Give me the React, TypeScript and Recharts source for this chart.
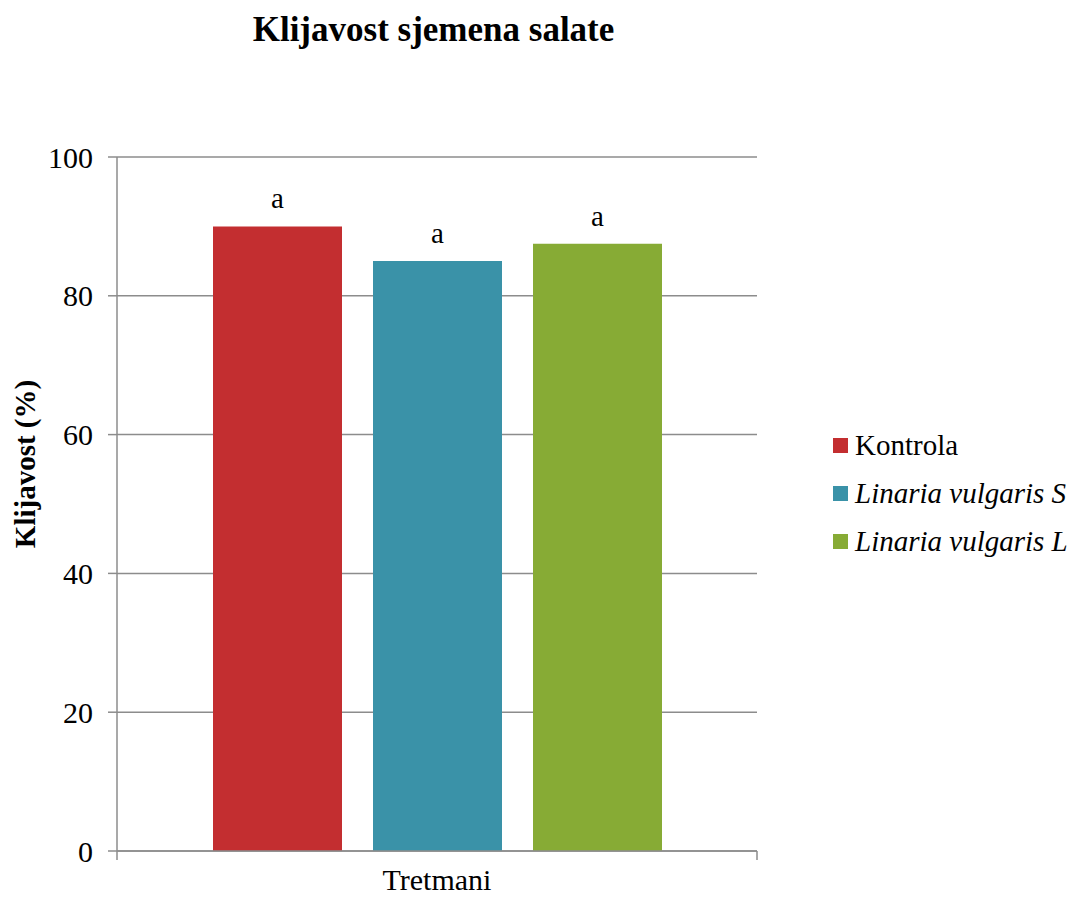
// @ts-nocheck
import { BarChart, Bar, XAxis, YAxis, CartesianGrid, LabelList } from 'recharts';

const categories = ['Tretmani'];
const kontrola = [90];
const linariaS = [85];
const linariaL = [87.5];
const letters = ['a', 'a', 'a'];
const yTicks = [0, 20, 40, 60, 80, 100];

const series = [
  { key: 'kontrola', name: 'Kontrola', color: '#C32E30', italic: false, letter: letters[0] },
  { key: 'linariaS', name: 'Linaria vulgaris S', color: '#3A92A8', italic: true, letter: letters[1] },
  { key: 'linariaL', name: 'Linaria vulgaris L', color: '#87AB35', italic: true, letter: letters[2] },
];

const data = categories.map((c, i) => ({
  name: c,
  kontrola: kontrola[i],
  linariaS: linariaS[i],
  linariaL: linariaL[i],
}));

const FONT = '"Liberation Serif", "Times New Roman", serif';
const GRID = '#8C8C8C';

// Excel draws the category ticks on the band edges, not at the centre
const CategoryTick = (props: any) => {
  const { x, width, payload } = props;
  const left = x - width / 2;
  const right = x + width / 2;
  return (
    <g>
      <line x1={left} y1={851} x2={left} y2={860} stroke={GRID} strokeWidth={1.5} />
      <line x1={right} y1={851} x2={right} y2={860} stroke={GRID} strokeWidth={1.5} />
      <text x={x} y={890} textAnchor="middle" fontFamily={FONT} fontSize={30} fill="#000">
        {payload.value}
      </text>
    </g>
  );
};

export default function App() {
  return (
    <div style={{ position: 'absolute', left: 0, top: 0, width: 1072, height: 898, background: '#fff', fontFamily: FONT }}>
      <div style={{ position: 'absolute', left: 0, width: 867, top: 12, textAlign: 'center', fontSize: 35, lineHeight: 1, fontWeight: 'bold' }}>
        Klijavost sjemena salate
      </div>

      <div
        style={{
          position: 'absolute', left: 25, top: 464, transform: 'translate(-50%, -50%) rotate(-90deg)',
          fontSize: 29, lineHeight: 1, fontWeight: 'bold', whiteSpace: 'nowrap',
        }}
      >
        Klijavost (%)
      </div>

      <BarChart
        width={1072}
        height={898}
        data={data}
        margin={{ top: 157, right: 315, left: 57, bottom: 0 }}
        barCategoryGap="15%"
        barGap={31}
      >
        <CartesianGrid vertical={false} stroke={GRID} strokeWidth={1.5} />
        <YAxis
          width={60}
          domain={[0, 100]}
          ticks={yTicks}
          interval={0}
          axisLine={{ stroke: GRID, strokeWidth: 1.5 }}
          tickLine={{ stroke: GRID, strokeWidth: 1.5 }}
          tickSize={9}
          tickMargin={15}
          tick={{ fontFamily: FONT, fontSize: 30, fill: '#000' }}
        />
        <XAxis
          dataKey="name"
          height={47}
          axisLine={{ stroke: GRID, strokeWidth: 1.5 }}
          tickLine={false}
          tick={<CategoryTick />}
        />
        {series.map((s) => (
          <Bar key={s.key} dataKey={s.key} name={s.name} fill={s.color} isAnimationActive={false}>
            <LabelList
              position="top"
              offset={18}
              valueAccessor={() => s.letter}
              style={{ fontFamily: FONT, fontSize: 29, fill: '#000' }}
            />
          </Bar>
        ))}
      </BarChart>

      <div style={{ position: 'absolute', left: 833, top: 421 }}>
        {series.map((s) => (
          <div key={s.key} style={{ display: 'flex', alignItems: 'center', height: 48, fontSize: 29, whiteSpace: 'nowrap' }}>
            <span style={{ display: 'inline-block', width: 15, height: 15, background: s.color, marginRight: 7 }} />
            <span style={{ fontStyle: s.italic ? 'italic' : 'normal' }}>{s.name}</span>
          </div>
        ))}
      </div>
    </div>
  );
}
